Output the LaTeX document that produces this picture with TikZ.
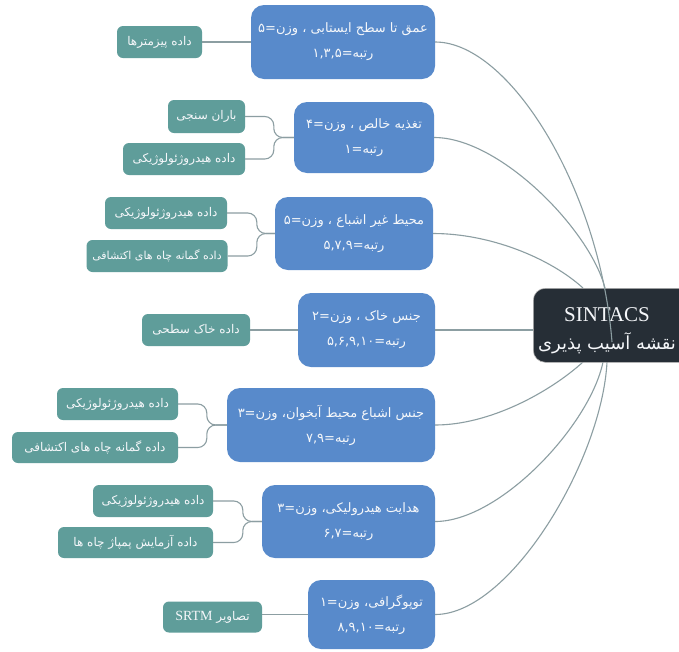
\documentclass[tikz,border=0pt]{standalone}
\usepackage{fontspec}
\TeXXeTstate=1
\newfontfamily\arabicfont[Script=Arabic]{DejaVu Sans}
\newfontfamily\latinserif{Liberation Serif}
\definecolor{blueC}{RGB}{88,138,203}
\definecolor{tealC}{RGB}{95,157,154}
\definecolor{darkC}{RGB}{38,46,54}
\definecolor{lineC}{RGB}{140,158,162}
\definecolor{txtC}{RGB}{245,247,250}
\begin{document}
\begin{tikzpicture}[x=1pt,y=-1pt,
  mainbox/.style={fill=blueC, rounded corners=13pt, text=txtC, align=center, inner sep=0pt,
    font=\arabicfont\fontsize{13}{25}\selectfont},
  leaf/.style={fill=tealC, rounded corners=6pt, text=txtC, inner sep=0pt,
    font=\arabicfont\fontsize{12}{14}\selectfont},
  centralbox/.style={fill=darkC, rounded corners=12pt, draw=gray!60, line width=0.6pt, inner sep=0pt},
  link/.style={draw=lineC, line width=1.1pt},
  ctext/.style={text=txtC, inner sep=0pt}]
\clip (0,0) rectangle (679,651);
\fill[white] (0,0) rectangle (679,651);

% main boxes
\node[mainbox, minimum width=184pt, minimum height=74pt] (b1) at (343,42)
  {\beginR عمق تا سطح ایستابی ، وزن=۵\endR\\ \beginR رتبه=۱,۳,۵\endR};
\node[mainbox, minimum width=140pt, minimum height=71pt] (b2) at (364,137.5)
  {\beginR تغذیه خالص ، وزن=۴\endR\\ \beginR رتبه=۱\endR};
\node[mainbox, minimum width=158pt, minimum height=73pt] (b3) at (354,233.5)
  {\beginR محیط غیر اشباع ، وزن=۵\endR\\ \beginR رتبه=۵,۷,۹\endR};
\node[mainbox, minimum width=137pt, minimum height=74pt] (b4) at (366.5,330)
  {\beginR جنس خاک ، وزن=۲\endR\\ \beginR رتبه=۵,۶,۹,۱۰\endR};
\node[mainbox, minimum width=208pt, minimum height=74pt] (b5) at (331,425)
  {\beginR جنس اشباع محیط آبخوان، وزن=۳\endR\\ \beginR رتبه=۷,۹\endR};
\node[mainbox, minimum width=173pt, minimum height=73pt] (b6) at (348.5,521.5)
  {\beginR هدایت هیدرولیکی، وزن=۳\endR\\ \beginR رتبه=۶,۷\endR};
\node[mainbox, minimum width=127pt, minimum height=69pt] (b7) at (371.5,614.5)
  {\beginR توپوگرافی، وزن=۱\endR\\ \beginR رتبه=۸,۹,۱۰\endR};

% leaves
\node[leaf, minimum width=85pt, minimum height=32pt] (t1) at (159.5,42) {\beginR داده پیزمترها\endR};
\node[leaf, minimum width=77pt, minimum height=33pt] (t2a) at (206.5,116.5) {\beginR باران سنجی\endR};
\node[leaf, minimum width=122pt, minimum height=32pt] (t2b) at (184,159) {\beginR داده هیدروژئولوژیکی\endR};
\node[leaf, minimum width=122pt, minimum height=32pt] (t3a) at (166,213) {\beginR داده هیدروژئولوژیکی\endR};
\node[leaf, minimum width=141pt, minimum height=32pt, font=\arabicfont\fontsize{11}{13}\selectfont] (t3b) at (157,256) {\beginR داده گمانه چاه های اکتشافی\endR};
\node[leaf, minimum width=108pt, minimum height=32pt] (t4) at (196,330) {\beginR داده خاک سطحی\endR};
\node[leaf, minimum width=121pt, minimum height=32pt] (t5a) at (117.5,404) {\beginR داده هیدروژئولوژیکی\endR};
\node[leaf, minimum width=166pt, minimum height=31pt] (t5b) at (95,447.5) {\beginR داده گمانه چاه های اکتشافی\endR};
\node[leaf, minimum width=120pt, minimum height=32pt] (t6a) at (153,501) {\beginR داده هیدروژئولوژیکی\endR};
\node[leaf, minimum width=155pt, minimum height=31pt] (t6b) at (135.5,542.5) {\beginR داده آزمایش  پمپاژ چاه ها\endR};
\node[leaf, minimum width=99pt, minimum height=31pt] (t7) at (212.5,617)
  {\beginR تصاویر \beginL{\latinserif\fontsize{14}{15}\selectfont SRTM}\endL\endR};

% leaf connectors
\draw[link] (b1.west) -- (b1.west -| t1.east);
\draw[link, rounded corners=9pt] (b2.west) -- ++(-20,0) |- (t2a.east);
\draw[link, rounded corners=9pt] (b2.west) -- ++(-20,0) |- (t2b.east);
\draw[link, rounded corners=9pt] (b3.west) -- ++(-18,0) |- (t3a.east);
\draw[link, rounded corners=9pt] (b3.west) -- ++(-18,0) |- (t3b.east);
\draw[link] (b4.west) -- (b4.west -| t4.east);
\draw[link, rounded corners=9pt] (b5.west) -- ++(-20,0) |- (t5a.east);
\draw[link, rounded corners=9pt] (b5.west) -- ++(-20,0) |- (t5b.east);
\draw[link, rounded corners=9pt] (b6.west) -- ++(-19,0) |- (t6a.east);
\draw[link, rounded corners=9pt] (b6.west) -- ++(-19,0) |- (t6b.east);
\draw[link] (b7.west) -- (b7.west -| t7.east);

% central node anchor points
\coordinate (s1) at (612,342);
\coordinate (s2) at (605,288);
\coordinate (s3) at (583,288);
\coordinate (s4) at (533,330);
\coordinate (s5) at (583,362);
\coordinate (s6) at (603,362);
\coordinate (s7) at (607,362);

\draw[link] (s2) .. controls (590,230) and (500,137.5) .. (b2.east);
\draw[link] (s3) .. controls (550,258) and (490,233.5) .. (b3.east);
\draw[link] (s4) -- (b4.east |- s4);
\draw[link] (s5) .. controls (550,392) and (490,425) .. (b5.east);
\draw[link] (s6) .. controls (590,425) and (500,521.5) .. (b6.east);
\draw[link] (s7) .. controls (602,460) and (510,614.5) .. (b7.east);

% central node
\node[centralbox, minimum width=170pt, minimum height=74pt, anchor=north west] (c) at (533,288) {};
\node[ctext, font=\latinserif\fontsize{21}{22}\selectfont] (ct1) at (607,315) {SINTACS};
\node[ctext, font=\arabicfont\fontsize{18}{20}\selectfont] (ct2) at (607,343) {\beginR نقشه آسیب پذیری\endR};

\draw[link] (s1) .. controls (600,190) and (510,42) .. (b1.east);
\end{tikzpicture}
\end{document}
